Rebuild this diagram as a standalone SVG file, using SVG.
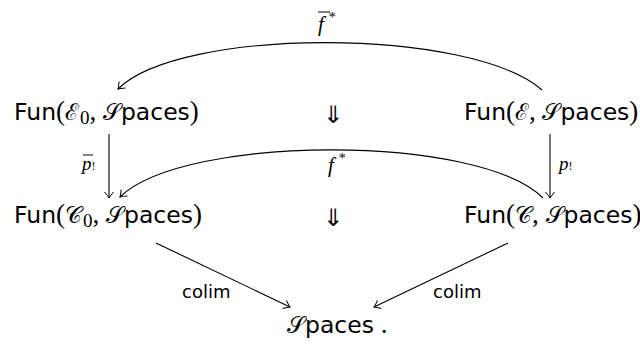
<svg xmlns="http://www.w3.org/2000/svg" width="640" height="345" viewBox="0 0 640 345">
<style>
.node{font-family:"DejaVu Sans","Liberation Sans",sans-serif;font-size:23.5px;fill:#000}
.sf{font-family:"DejaVu Sans","Liberation Sans",sans-serif}
.rm{font-family:"Liberation Serif","DejaVu Serif",serif;font-size:27px}
.cal{font-family:"DejaVu Serif","Noto Sans",serif;font-size:23px}
.sub{font-family:"Liberation Serif","DejaVu Serif",serif;font-size:19px}
.dar{font-family:"DejaVu Sans",sans-serif;font-size:24px;fill:#000}
.it{font-family:"Liberation Serif","DejaVu Serif",serif;font-style:italic}
.lab{fill:#000}
.sm{font-size:18px;font-family:"DejaVu Sans","Liberation Sans",sans-serif;fill:#000}
.ar{fill:none;stroke:#000;stroke-width:1.1;marker-end:url(#h)}
.ov{stroke:#000;stroke-width:1}
</style>
<defs>
<marker id="h" markerWidth="12" markerHeight="12" refX="0" refY="0" viewBox="-7 -6 8 12" markerUnits="userSpaceOnUse" orient="auto">
<path d="M-6,-4.5 Q-2,-1 0,0 Q-2,1 -6,4.5" fill="none" stroke="#000" stroke-width="1"/>
</marker>
</defs>
<g id="n1" class="node"><text x="14" y="120"><tspan class="sf">Fun</tspan><tspan class="rm">(</tspan><tspan class="cal">ℰ</tspan><tspan class="sub" dx="1" dy="4">0</tspan><tspan class="rm" dy="-4">, </tspan><tspan class="cal">𝒮</tspan><tspan class="sf">paces</tspan><tspan class="rm">)</tspan></text></g>
<g id="n2" class="node"><text x="464" y="120"><tspan class="sf">Fun</tspan><tspan class="rm">(</tspan><tspan class="cal">ℰ</tspan><tspan class="rm">, </tspan><tspan class="cal">𝒮</tspan><tspan class="sf">paces</tspan><tspan class="rm">)</tspan></text></g>
<g id="n3" class="node"><text x="14" y="223"><tspan class="sf">Fun</tspan><tspan class="rm">(</tspan><tspan class="cal">𝒞</tspan><tspan class="sub" dx="1" dy="4">0</tspan><tspan class="rm" dy="-4">, </tspan><tspan class="cal">𝒮</tspan><tspan class="sf">paces</tspan><tspan class="rm">)</tspan></text></g>
<g id="n4" class="node"><text x="464" y="223"><tspan class="sf">Fun</tspan><tspan class="rm">(</tspan><tspan class="cal">𝒞</tspan><tspan class="rm">, </tspan><tspan class="cal">𝒮</tspan><tspan class="sf">paces</tspan><tspan class="rm">)</tspan></text></g>
<g id="n5" class="node"><text x="287" y="333"><tspan class="cal">𝒮</tspan><tspan class="sf">paces</tspan><tspan class="rm"> .</tspan></text></g>
<g id="t1"><text class="dar" x="333" y="123" text-anchor="middle">⇓</text></g>
<g id="t2"><text class="dar" x="333" y="226" text-anchor="middle">⇓</text></g>
<g id="connectors">
<path class="ar" d="M542,90 C470,27 180,27 118,89"/>
<path class="ar" d="M543,198 C480,134 185,134 120,197"/>
<path class="ar" d="M109,134 L109,198"/>
<path class="ar" d="M550,134 L550,198"/>
<path class="ar" d="M156,243 L290,307"/>
<path class="ar" d="M508,243 L374,307"/>
</g>
<g id="labels">
<text class="lab it" x="318" y="31" font-size="21">f<tspan dx="5" dy="-9" font-size="14" font-style="normal">*</tspan></text>
<line class="ov" x1="318" y1="12" x2="330" y2="12"/>
<text class="lab it" x="328" y="172" font-size="21">f<tspan dx="5" dy="-9" font-size="14" font-style="normal">*</tspan></text>
<text class="lab it" x="82" y="170" font-size="19">p<tspan font-size="12" font-style="normal">!</tspan></text>
<line class="ov" x1="83" y1="155" x2="93" y2="155"/>
<text class="lab it" x="559" y="170" font-size="19">p<tspan font-size="12" font-style="normal">!</tspan></text>
<text class="sm" x="182" y="298">colim</text>
<text class="sm" x="433" y="298">colim</text>
</g>
</svg>
